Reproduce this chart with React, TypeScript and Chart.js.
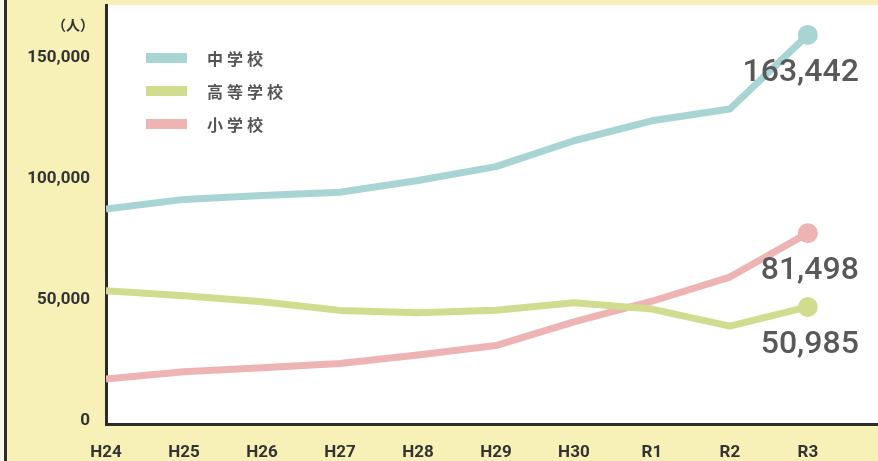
import React, { useEffect, useRef } from "react";
import { Chart, registerables } from "chart.js";

Chart.register(...registerables);

const categories = ["H24", "H25", "H26", "H27", "H28", "H29", "H30", "R1", "R2", "R3"];
const seriesNames = ["中学校", "高等学校", "小学校"];
const juniorHigh = [91446, 95442, 97033, 98408, 103235, 108999, 119687, 127922, 132777, 163442];
const highSchool = [57664, 55655, 53156, 49563, 48565, 49643, 52723, 50100, 43051, 50985];
const elementary = [21243, 24175, 25864, 27583, 31151, 35032, 44841, 53350, 63350, 81498];
const yTicks = [0, 50000, 100000, 150000];
const unitLabel = "（人）";

const colors = ["#a8d4d3", "#d2dc8f", "#eeb4b4"];

const bgPlugin = {
  id: "bgPlugin",
  beforeDraw(chart: any) {
    const { ctx, chartArea, width, height } = chart;
    ctx.save();
    ctx.fillStyle = "#f8f6ec";
    ctx.fillRect(0, 0, width, height);
    ctx.fillStyle = "#f7f1b7";
    ctx.fillRect(7, 0, width - 7, height);
    ctx.fillStyle = "#2b2b2b";
    ctx.fillRect(4, 0, 3, height);
    ctx.fillStyle = "#ffffff";
    ctx.fillRect(chartArea.left, chartArea.top, chartArea.right - chartArea.left, chartArea.bottom - chartArea.top);
    ctx.restore();
  },
  afterDraw(chart: any) {
    const { ctx } = chart;
    ctx.save();
    // unit label
    ctx.font = "bold 14px 'Noto Sans CJK JP'";
    ctx.fillStyle = "#333333";
    ctx.textAlign = "right";
    ctx.textBaseline = "middle";
    ctx.fillText(unitLabel, 94, 25);
    // legend
    ctx.textAlign = "left";
    ctx.font = "bold 16px 'Noto Sans CJK JP'";
    (ctx as any).letterSpacing = "4px";
    chart.data.datasets.forEach((ds: any, i: number) => {
      const cy = 58 + 33 * i;
      ctx.fillStyle = ds.borderColor;
      ctx.fillRect(146, cy - 5, 41, 10);
      ctx.fillStyle = "#555555";
      ctx.fillText(ds.label, 207, cy + 1);
    });
    (ctx as any).letterSpacing = "0px";
    // end value labels
    ctx.font = "500 32px Roboto";
    ctx.fillStyle = "#595959";
    ctx.textAlign = "right";
    chart.data.datasets.forEach((ds: any, i: number) => {
      const meta = chart.getDatasetMeta(i);
      const last = meta.data[meta.data.length - 1];
      const v = ds.data[ds.data.length - 1].y;
      ctx.fillText(Number(v).toLocaleString("en-US"), last.x + 51, last.y + 38);
    });
    ctx.restore();
  },
};

const zeroPad = (scale: any) => {
  scale.paddingLeft = 0;
  scale.paddingRight = 0;
  scale.paddingTop = 0;
  scale.paddingBottom = 0;
};

export default function App() {
  const ref = useRef<HTMLCanvasElement | null>(null);
  useEffect(() => {
    if (!ref.current) return;
    const all = [juniorHigh, highSchool, elementary];
    const chart = new Chart(ref.current, {
      type: "line",
      data: {
        datasets: all.map((arr, i) => ({
          label: seriesNames[i],
          data: arr.map((v, j) => ({ x: j, y: v })),
          borderColor: colors[i],
          backgroundColor: colors[i],
          borderWidth: 7,
          tension: 0,
          borderJoinStyle: "round" as const,
          pointRadius: arr.map((_, j) => (j === arr.length - 1 ? 10 : 0)),
          pointHoverRadius: 0,
          pointBorderWidth: 0,
          clip: 0,
        })),
      },
      options: {
        responsive: false,
        animation: false,
        events: [],
        layout: { autoPadding: false, padding: { top: 5, left: 0, right: 0, bottom: 0 } },
        plugins: { legend: { display: false }, tooltip: { enabled: false } },
        scales: {
          x: {
            type: "linear",
            min: 0,
            max: 9.9,
            grid: { display: false, drawTicks: false },
            border: { display: true, color: "#2b2b2b", width: 3 },
            afterBuildTicks: (scale: any) => {
              scale.ticks = categories.map((_, i) => ({ value: i }));
            },
            afterFit: (scale: any) => {
              scale.height = 37;
              zeroPad(scale);
            },
            ticks: {
              autoSkip: false,
              maxRotation: 0,
              padding: 19,
              color: "#333333",
              font: { family: "Roboto", size: 17, weight: "bold" },
              callback: (v: any) => categories[v as number] ?? "",
            },
          },
          y: {
            type: "linear",
            min: 2600,
            max: 175800,
            grid: { display: false, drawTicks: false },
            border: { display: true, color: "#2b2b2b", width: 3 },
            afterBuildTicks: (scale: any) => {
              scale.ticks = yTicks.map((v) => ({ value: v }));
            },
            afterFit: (scale: any) => {
              scale.width = 106;
              zeroPad(scale);
            },
            ticks: {
              autoSkip: false,
              padding: 16,
              labelOffset: -10,
              color: "#333333",
              font: { family: "Roboto", size: 17, weight: "bold" },
              callback: (v: any) => Number(v).toLocaleString("en-US"),
            },
          },
        },
      },
      plugins: [bgPlugin],
    } as any);
    return () => chart.destroy();
  }, []);
  return (
    <div style={{ position: "fixed", left: 0, top: 0, width: 878, height: 461 }}>
      <canvas ref={ref} width={878} height={461} style={{ width: 878, height: 461, display: "block" }} />
    </div>
  );
}
